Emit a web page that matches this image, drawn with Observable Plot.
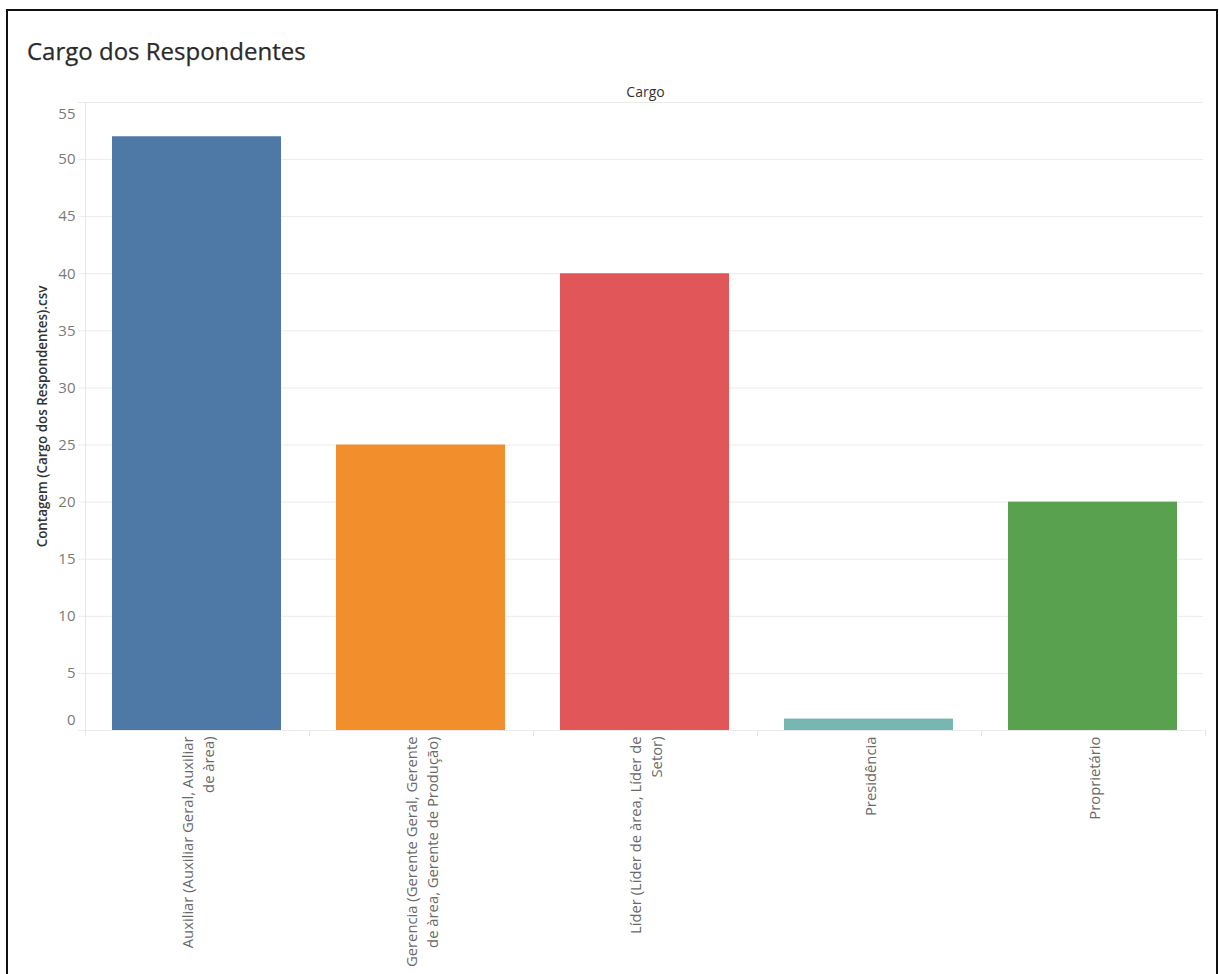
<!DOCTYPE html>
<html>
<head>
<meta charset="utf-8">
<script src="https://cdn.jsdelivr.net/npm/d3@7"></script>
<script src="https://cdn.jsdelivr.net/npm/@observablehq/plot@0.6"></script>
<style>
  html, body { margin: 0; padding: 0; background: #fff; }
  body { width: 1219px; height: 974px; position: relative; overflow: hidden; font-family: "Open Sans", sans-serif; }
  #frame { position: absolute; left: 6px; top: 9px; width: 1208px; height: 1000px; border: 2px solid #111; box-sizing: content-box; }
  #title { position: absolute; left: 27px; top: 35px; font-size: 24px; font-weight: 500; color: #2a2a2a; font-family: "Open Sans", sans-serif; line-height: 32px; -webkit-text-stroke: 0.25px #2a2a2a; }
  #chart { position: absolute; left: 0; top: 0; }
</style>
</head>
<body>
<div id="frame"></div>
<div id="title">Cargo dos Respondentes</div>
<div id="chart"></div>
<script>
const categories = [
  "Auxiliar (Auxiliar Geral, Auxiliar de àrea)",
  "Gerencia (Gerente Geral, Gerente de àrea, Gerente de Produção)",
  "Líder (Líder de àrea, Líder de Setor)",
  "Presidência",
  "Proprietário"
];
const tickLabels = [
  "Auxiliar (Auxiliar Geral, Auxiliar\nde àrea)",
  "Gerencia (Gerente Geral, Gerente\nde àrea, Gerente de Produção)",
  "Líder (Líder de àrea, Líder de\nSetor)",
  "Presidência",
  "Proprietário"
];
const counts = [52, 25, 40, 1, 20];
const colors = ["#4e79a7", "#f28e2b", "#e15759", "#76b7b2", "#59a14f"];
const yTicks = [0, 5, 10, 15, 20, 25, 30, 35, 40, 45, 50, 55];
const yTitle = "Contagem (Cargo dos Respondentes).csv";
const xTitle = "Cargo";

const data = categories.map((c, i) => ({cat: c, count: counts[i], label: tickLabels[i]}));

const axisStyle = {tickSize: 0, tickPadding: 10, fontSize: 15, color: "#7a7a7a", label: null};

function bandLines(index, scales, values, dimensions) {
  const x = scales.x;
  const g = d3.create("svg:g").attr("stroke", "#e6e6e6").attr("fill", "none");
  const top = dimensions.marginTop;
  const bottom = dimensions.height - dimensions.marginBottom;
  const bw = x.bandwidth ? x.bandwidth() : 0;
  const step = x.step ? x.step() : 0;
  const left = dimensions.marginLeft;
  g.append("line").attr("x1", left + 0.5).attr("x2", left + 0.5).attr("y1", top).attr("y2", bottom + 6);
  categories.forEach(c => {
    const xr = x(c) + bw / 2 + step / 2;
    g.append("line").attr("x1", Math.round(xr) + 0.5).attr("x2", Math.round(xr) + 0.5).attr("y1", bottom).attr("y2", bottom + 6);
  });
  return g.node();
}

const chart = Plot.plot({
  width: 1219,
  height: 974,
  marginLeft: 85,
  marginRight: 14,
  marginTop: 102,
  marginBottom: 244,
  style: {fontFamily: "'Open Sans', sans-serif", background: "transparent"},
  x: {domain: categories, paddingInner: 0.245, paddingOuter: 0.1225, axis: null},
  y: {domain: [0, 55], axis: null},
  color: {domain: categories, range: colors},
  marks: [
    Plot.gridY(yTicks, {stroke: "#ebebeb", strokeOpacity: 1, insetLeft: -7, insetRight: 2}),
    bandLines,
    Plot.barY(data, {x: "cat", y: "count", fill: "cat"}),
    Plot.axisY(yTicks.slice(1, -1), axisStyle),
    Plot.axisY([yTicks[0]], {...axisStyle, dy: -10}),
    Plot.axisY([yTicks[yTicks.length - 1]], {...axisStyle, dy: 12}),
    Plot.text(data, {x: "cat", frameAnchor: "bottom", text: "label", rotate: -90, textAnchor: "end", lineAnchor: "middle", lineHeight: 1.38, dy: 6, fontSize: 14.8, fill: "#6a6a6a"}),
    Plot.text([yTitle], {frameAnchor: "left", textAnchor: "middle", rotate: -90, dx: -43, fontSize: 13.4, fontWeight: 600, fill: "#333"}),
    Plot.text([xTitle], {frameAnchor: "top", textAnchor: "middle", dy: -15, fontSize: 14, fill: "#333"})
  ]
});
document.getElementById("chart").appendChild(chart);
</script>
</body>
</html>
